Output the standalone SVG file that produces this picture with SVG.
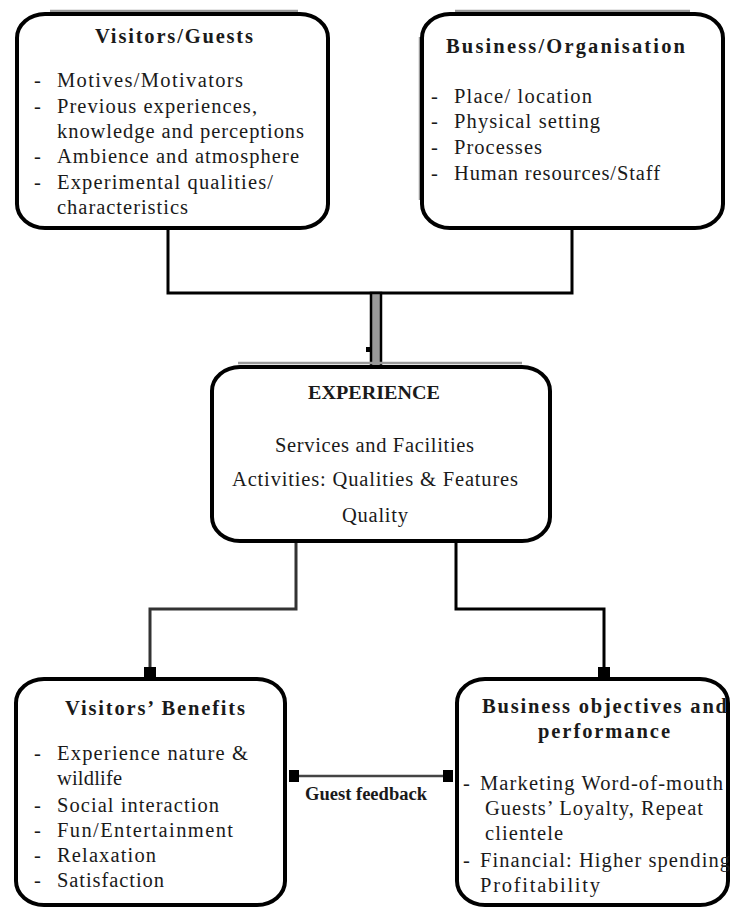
<svg xmlns="http://www.w3.org/2000/svg" width="730" height="909" viewBox="0 0 730 909">
<defs>
<style>
.box{fill:#fff;stroke:#000;stroke-width:4}
.shade{fill:none;stroke:#9a9a9a;stroke-width:2.5}
.t{font-family:"Liberation Serif","Times New Roman",serif;font-size:20.5px;fill:#1a1a1a}
.b{font-weight:bold}
.conn{fill:none;stroke:#000;stroke-width:3}
.fb{fill:none;stroke:#444;stroke-width:2.5}
</style>
<marker id="sq" markerUnits="userSpaceOnUse" markerWidth="10" markerHeight="12" viewBox="0 0 10 12" refX="10" refY="6" orient="auto-start-reverse">
<path d="M0,0H10V12H0Z" fill="#000"/>
</marker>
</defs>
<rect width="730" height="909" fill="#fff"/>

<g id="connectors">
<path class="conn" d="M168,228V293H572V228"/>
<rect x="371" y="293" width="10" height="74" fill="#9a9a9a" stroke="#000" stroke-width="2.5"/>
<rect x="366" y="347" width="4" height="5" fill="#000"/>
<path class="conn" d="M296,541V609H150V677" marker-end="url(#sq)" style="stroke:#333"/>
<path class="conn" d="M456,541V609H604V677" marker-end="url(#sq)"/>
<path class="fb" d="M289,776H453" marker-start="url(#sq)" marker-end="url(#sq)"/>
<text class="t b" x="366" y="800" text-anchor="middle" style="font-size:18px" textLength="122" lengthAdjust="spacingAndGlyphs">Guest feedback</text>
</g>

<g id="visitors-guests">
<path class="shade" d="M50,11H298"/>
<rect class="box" x="17" y="14" width="311" height="214" rx="28" ry="24"/>
<text class="t b" x="95" y="43" textLength="158" lengthAdjust="spacing">Visitors/Guests</text>
<text class="t" x="34" y="87">-</text><text class="t" x="57" y="87" textLength="186" lengthAdjust="spacing">Motives/Motivators</text>
<text class="t" x="34" y="113">-</text><text class="t" x="57" y="113" textLength="200" lengthAdjust="spacing">Previous experiences,</text>
<text class="t" x="57" y="138" textLength="247" lengthAdjust="spacing">knowledge and perceptions</text>
<text class="t" x="34" y="163">-</text><text class="t" x="57" y="163" textLength="242" lengthAdjust="spacing">Ambience and atmosphere</text>
<text class="t" x="34" y="189">-</text><text class="t" x="57" y="189" textLength="216" lengthAdjust="spacing">Experimental qualities/</text>
<text class="t" x="57" y="214" textLength="131" lengthAdjust="spacing">characteristics</text>
</g>

<g id="business-organisation">
<path class="shade" d="M455,11H690M420,37V200"/>
<rect class="box" x="422" y="14" width="301" height="214" rx="28" ry="24"/>
<text class="t b" x="446" y="53" textLength="239" lengthAdjust="spacing">Business/Organisation</text>
<text class="t" x="431" y="103">-</text><text class="t" x="454" y="103" textLength="138" lengthAdjust="spacing">Place/ location</text>
<text class="t" x="431" y="128">-</text><text class="t" x="454" y="128" textLength="146" lengthAdjust="spacing">Physical setting</text>
<text class="t" x="431" y="154">-</text><text class="t" x="454" y="154" textLength="88" lengthAdjust="spacing">Processes</text>
<text class="t" x="431" y="180">-</text><text class="t" x="454" y="180" textLength="206" lengthAdjust="spacing">Human resources/Staff</text>
</g>

<g id="experience">
<path class="shade" d="M238,363H522"/>
<rect class="box" x="212" y="367" width="338" height="174" rx="28" ry="24"/>
<text class="t b" x="308" y="399" style="font-size:19px" textLength="132" lengthAdjust="spacingAndGlyphs">EXPERIENCE</text>
<text class="t" x="275" y="452" textLength="199" lengthAdjust="spacing">Services and Facilities</text>
<text class="t" x="232" y="486" textLength="286" lengthAdjust="spacing">Activities: Qualities &amp; Features</text>
<text class="t" x="342" y="522" textLength="66" lengthAdjust="spacing">Quality</text>
</g>

<g id="visitors-benefits">
<rect class="box" x="16" y="679" width="269" height="226" rx="28" ry="24"/>
<text class="t b" x="65" y="715" textLength="180" lengthAdjust="spacing">Visitors’ Benefits</text>
<text class="t" x="34" y="760">-</text><text class="t" x="57" y="760" textLength="191" lengthAdjust="spacing">Experience nature &amp;</text>
<text class="t" x="57" y="785" textLength="65" lengthAdjust="spacing">wildlife</text>
<text class="t" x="34" y="812">-</text><text class="t" x="57" y="812" textLength="162" lengthAdjust="spacing">Social interaction</text>
<text class="t" x="34" y="837">-</text><text class="t" x="57" y="837" textLength="176" lengthAdjust="spacing">Fun/Entertainment</text>
<text class="t" x="34" y="862">-</text><text class="t" x="57" y="862" textLength="99" lengthAdjust="spacing">Relaxation</text>
<text class="t" x="34" y="887">-</text><text class="t" x="57" y="887" textLength="107" lengthAdjust="spacing">Satisfaction</text>
</g>

<g id="business-objectives">
<rect class="box" x="457" y="679" width="271" height="226" rx="28" ry="24"/>
<text class="t b" x="482" y="713" textLength="245" lengthAdjust="spacing">Business objectives and</text>
<text class="t b" x="538" y="738" textLength="132" lengthAdjust="spacing">performance</text>
<text class="t" x="463" y="790">-</text><text class="t" x="480" y="790" textLength="243" lengthAdjust="spacing">Marketing Word-of-mouth</text>
<text class="t" x="485" y="815" textLength="218" lengthAdjust="spacing">Guests’ Loyalty, Repeat</text>
<text class="t" x="485" y="840" textLength="78" lengthAdjust="spacing">clientele</text>
<text class="t" x="463" y="867">-</text><text class="t" x="480" y="867" textLength="250" lengthAdjust="spacing">Financial: Higher spending</text>
<text class="t" x="480" y="892" textLength="120" lengthAdjust="spacing">Profitability</text>
</g>
</svg>
